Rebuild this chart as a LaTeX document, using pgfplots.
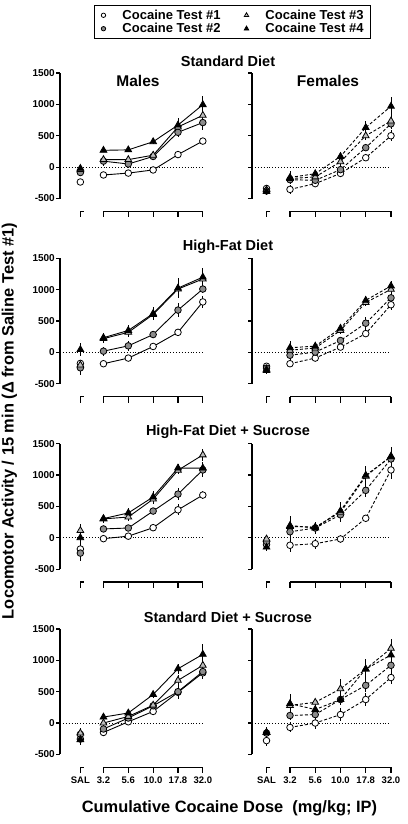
\documentclass[border=0pt]{standalone}
\usepackage{fontspec}
\setmainfont{Liberation Sans}
\usepackage{pgfplots}
\usepackage{pgfplotstable}
\pgfplotsset{compat=1.18}
\definecolor{gcirc}{HTML}{8C8C8C}
\definecolor{gtri}{HTML}{BEBEBE}

% columns: x (SAL=0.07, gap, 3.2..32.0 = 1..5), test means and SEMs
\pgfplotstableread{
x t1 e1 t2 e2 t3 e3 t4 e4
0.07 -237 30 -86 40 -40 40 -20 40
0.5 nan 0 nan 0 nan 0 nan 0
1 -125 30 95 75 120 50 268 30
2 -95 30 50 60 120 50 275 30
3 -45 30 170 50 190 60 405 30
4 200 35 555 80 640 70 670 110
5 415 40 710 120 825 60 995 135
}\MaleStd
\pgfplotstableread{
x t1 e1 t2 e2 t3 e3 t4 e4
0.07 -340 40 -380 40 -360 40 -390 50
0.5 nan 0 nan 0 nan 0 nan 0
1 -355 70 -200 60 -183 60 -165 110
2 -263 40 -210 50 -156 50 -105 50
3 -100 40 -40 50 85 60 170 60
4 150 50 310 60 500 70 630 110
5 500 90 690 90 735 90 970 150
}\FemStd
\pgfplotstableread{
x t1 e1 t2 e2 t3 e3 t4 e4
0.07 -175 60 -245 110 -200 60 45 100
0.5 nan 0 nan 0 nan 0 nan 0
1 -180 40 20 70 220 60 235 80
2 -90 40 105 80 320 70 350 80
3 95 40 285 60 605 70 620 100
4 320 40 675 110 1010 100 1025 160
5 805 90 1010 70 1170 80 1200 150
}\MaleHF
\pgfplotstableread{
x t1 e1 t2 e2 t3 e3 t4 e4
0.07 -220 50 -250 50 -270 50 -290 60
0.5 nan 0 nan 0 nan 0 nan 0
1 -180 60 -45 70 35 80 75 100
2 -90 40 5 60 70 50 100 60
3 85 50 190 60 350 60 385 60
4 300 60 465 100 795 60 830 70
5 760 80 870 60 1005 70 1060 80
}\FemHF
\pgfplotstableread{
x t1 e1 t2 e2 t3 e3 t4 e4
0.07 -180 90 -245 130 115 100 0 100
0.5 nan 0 nan 0 nan 0 nan 0
1 -15 30 140 40 300 60 305 60
2 25 30 155 40 330 60 395 80
3 160 50 425 50 615 80 650 100
4 445 90 695 90 1075 60 1110 60
5 680 70 1080 120 1320 90 1110 90
}\MaleHFS
\pgfplotstableread{
x t1 e1 t2 e2 t3 e3 t4 e4
0.07 -110 80 -60 70 -20 70 -150 60
0.5 nan 0 nan 0 nan 0 nan 0
1 -120 110 95 90 180 100 195 150
2 -95 80 155 60 170 80 155 90
3 -20 60 365 110 405 120 430 140
4 310 60 755 100 980 130 995 150
5 1080 150 1255 120 1300 130 1290 150
}\FemHFS
\pgfplotstableread{
x t1 e1 t2 e2 t3 e3 t4 e4
0.07 -180 100 -255 80 -160 80 -265 80
0.5 nan 0 nan 0 nan 0 nan 0
1 -150 40 -95 60 0 60 95 50
2 20 40 80 50 105 50 160 50
3 185 50 275 50 285 50 455 60
4 490 110 500 90 680 80 865 80
5 800 100 820 100 920 100 1095 160
}\MaleSS
\pgfplotstableread{
x t1 e1 t2 e2 t3 e3 t4 e4
0.07 -280 90 -160 60 -150 60 -150 80
0.5 nan 0 nan 0 nan 0 nan 0
1 -70 80 120 70 280 100 310 160
2 0 100 135 90 330 60 215 70
3 135 110 375 80 545 150 375 80
4 375 110 600 110 860 140 860 160
5 725 100 920 100 1190 150 1085 120
}\FemSS

\pgfplotsset{
  panel/.style={scale only axis, height=125.5pt, ymin=-500, ymax=1500,
    ytick={-500,0,500,1000,1500}, xtick=\empty,
    axis x line=none, axis y line*=left,
    axis line style={-, line width=1.3pt, black},
    y axis line style={-, line width=1.3pt, black},
    ytick style={line width=1.2pt, black}, tick align=outside, major tick length=4pt,
    clip=false, unbounded coords=jump,
    yticklabel style={font=\bfseries\fontsize{10}{12}\selectfont, inner sep=1pt}},
  male/.style={panel, width=145.3pt, xmin=-0.75, xmax=5.1, yticklabels={-500,0,500,1000,1500}},
  female/.style={panel, width=141.5pt, xmin=-0.505, xmax=5.1, yticklabels={,,,,}},
  mline/.style={black, solid, line width=0.9pt},
  fline/.style={black, dash pattern=on 3pt off 2pt, line width=0.9pt},
  s1/.style={mark=*, mark size=3.3pt, mark options={solid, fill=white, draw=black, line width=0.8pt}},
  s2/.style={mark=*, mark size=3.3pt, mark options={solid, fill=gcirc, draw=black, line width=0.8pt}},
  s3/.style={mark=triangle*, mark size=3.9pt, mark options={solid, fill=gtri, draw=black, line width=0.8pt}},
  s4/.style={mark=triangle*, mark size=3.9pt, mark options={solid, fill=black, draw=black, line width=0.8pt}},
  ebar/.style={/pgfplots/error bars/.cd, y dir=both, y explicit, error mark=none,
    error bar style={line width=0.8pt, solid, black}},
}

\newcommand{\fourplots}[3]{% table, line style, xmin
  \addplot[black, dotted, line width=0.9pt, forget plot] coordinates {(#3,0) (5,0)};
  \addplot[#2, s1, ebar] table[x=x, y=t1, y error=e1] {#1};
  \addplot[#2, s2, ebar] table[x=x, y=t2, y error=e2] {#1};
  \addplot[#2, s3, ebar] table[x=x, y=t3, y error=e3] {#1};
  \addplot[#2, s4, ebar] table[x=x, y=t4, y error=e4] {#1};
  \draw[line width=1.3pt] (axis cs:1,-707) -- (axis cs:5,-707);
  \draw[line width=1.2pt] (axis cs:1,-707) -- ([yshift=-6pt]axis cs:1,-707);
  \draw[line width=1.2pt] (axis cs:2,-707) -- ([yshift=-6pt]axis cs:2,-707);
  \draw[line width=1.2pt] (axis cs:3,-707) -- ([yshift=-6pt]axis cs:3,-707);
  \draw[line width=1.2pt] (axis cs:4,-707) -- ([yshift=-6pt]axis cs:4,-707);
  \draw[line width=1.2pt] (axis cs:5,-707) -- ([yshift=-6pt]axis cs:5,-707);
  \draw[line width=1.2pt] ([xshift=3.5pt]axis cs:0.07,-707) -- (axis cs:0.07,-707) -- ([yshift=-6pt]axis cs:0.07,-707);
}
\newcommand{\xtf}{\bfseries\fontsize{9.5}{11}\selectfont}
\newcommand{\xlabs}{%
  \node[font=\xtf] at ([yshift=-13pt]axis cs:0.07,-707) {SAL};
  \node[font=\xtf] at ([yshift=-13pt]axis cs:1,-707) {3.2};
  \node[font=\xtf] at ([yshift=-13pt]axis cs:2,-707) {5.6};
  \node[font=\xtf] at ([yshift=-13pt]axis cs:3,-707) {10.0};
  \node[font=\xtf] at ([yshift=-13pt]axis cs:4,-707) {17.8};
  \node[font=\xtf] at ([yshift=-13pt]axis cs:5,-707) {32.0};
}
\newcommand{\ttf}{\bfseries\fontsize{14.5}{16}\selectfont}

\begin{document}
\begin{tikzpicture}
\useasboundingbox (0pt,0pt) rectangle (407pt,-824pt);

% legend
\begin{axis}[hide axis, scale only axis, width=20pt, height=20pt, xmin=0, xmax=1, ymin=0, ymax=1,
  at={(232.5pt,-22pt)}, anchor=center,
  legend columns=2, transpose legend, legend cell align=left,
  legend image code/.code={\path[draw=none] (0pt,0pt) (21pt,0pt); \draw[#1] plot coordinates {(4pt,0pt)};},
  legend style={at={(0.5,0.5)}, anchor=center, draw=black, line width=1.2pt,
    font=\bfseries\fontsize{13}{14}\selectfont, inner xsep=5pt, inner ysep=2pt, row sep=-1.5pt,
    /tikz/every even column/.append style={column sep=20pt}}]
\addlegendimage{only marks, mark=*, mark size=2.2pt, mark options={fill=white, draw=black, line width=0.8pt}}
\addlegendentry{Cocaine Test \#1}
\addlegendimage{only marks, mark=*, mark size=2.2pt, mark options={fill=gcirc, draw=black, line width=0.8pt}}
\addlegendentry{Cocaine Test \#2}
\addlegendimage{only marks, mark=triangle*, mark size=2.6pt, mark options={fill=gtri, draw=black, line width=0.8pt}}
\addlegendentry{Cocaine Test \#3}
\addlegendimage{only marks, mark=triangle*, mark size=2.6pt, mark options={fill=black, draw=black, line width=0.8pt}}
\addlegendentry{Cocaine Test \#4}
\end{axis}

% Row 1: Standard Diet
\begin{axis}[male, at={(60pt,-198.5pt)}, anchor=south west]
\fourplots{\MaleStd}{mline}{-0.75}
\end{axis}
\begin{axis}[female, at={(252pt,-198.5pt)}, anchor=south west]
\fourplots{\FemStd}{fline}{-0.505}
\end{axis}
% Row 2: High-Fat Diet
\begin{axis}[male, at={(60pt,-383.8pt)}, anchor=south west]
\fourplots{\MaleHF}{mline}{-0.75}
\end{axis}
\begin{axis}[female, at={(252pt,-383.8pt)}, anchor=south west]
\fourplots{\FemHF}{fline}{-0.505}
\end{axis}
% Row 3: High-Fat Diet + Sucrose
\begin{axis}[male, at={(60pt,-569.1pt)}, anchor=south west]
\fourplots{\MaleHFS}{mline}{-0.75}
\end{axis}
\begin{axis}[female, at={(252pt,-569.1pt)}, anchor=south west]
\fourplots{\FemHFS}{fline}{-0.505}
\end{axis}
% Row 4: Standard Diet + Sucrose
\begin{axis}[male, at={(60pt,-754.4pt)}, anchor=south west]
\fourplots{\MaleSS}{mline}{-0.75}
\xlabs
\end{axis}
\begin{axis}[female, at={(252pt,-754.4pt)}, anchor=south west]
\fourplots{\FemSS}{fline}{-0.505}
\xlabs
\end{axis}

% titles
\node[font=\ttf] at (228pt,-61pt) {Standard Diet};
\node[font=\ttf] at (228pt,-246.3pt) {High-Fat Diet};
\node[font=\ttf] at (228pt,-431.6pt) {High-Fat Diet + Sucrose};
\node[font=\ttf] at (228pt,-616.9pt) {Standard Diet + Sucrose};
\node[font=\bfseries\fontsize{15.5}{17}\selectfont] at (138pt,-81pt) {Males};
\node[font=\bfseries\fontsize{15.5}{17}\selectfont] at (328pt,-81pt) {Females};
% axis labels
\node[font=\bfseries\fontsize{16.4}{18}\selectfont, rotate=90] at (9.5pt,-421pt) {Locomotor Activity / 15 min (Δ from Saline Test \#1)};
\node[font=\bfseries\fontsize{16.4}{18}\selectfont] at (229.5pt,-808pt) {Cumulative Cocaine Dose\ \ (mg/kg; IP)};
\end{tikzpicture}
\end{document}
